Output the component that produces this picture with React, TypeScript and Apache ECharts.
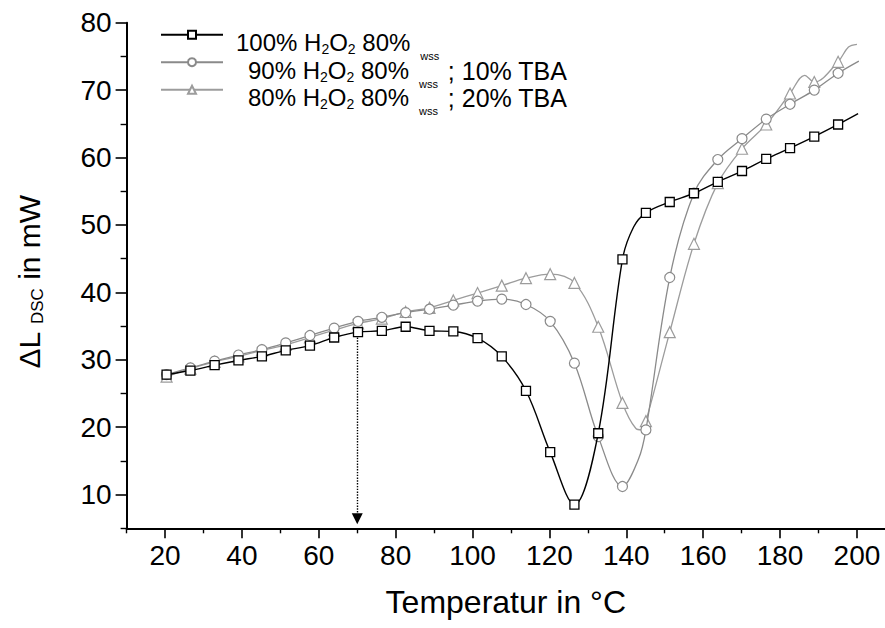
import React, { useEffect, useRef } from "react";
import * as echarts from "echarts";

// Temperatures (°C) of the sampled points (markers)
const temps = [20.4, 26.6, 32.9, 39.1, 45.2, 51.4, 57.7, 64.0, 70.2, 76.4, 82.6, 88.8, 95.0, 101.3, 107.6, 113.9, 120.2, 126.5, 132.7, 139.0, 145.1, 151.3, 157.6, 163.8, 170.1, 176.4, 182.6, 188.9, 195.1];

// ΔL_DSC in mW
const s100 = [27.8, 28.4, 29.2, 29.9, 30.5, 31.4, 32.1, 33.3, 34.1, 34.3, 34.9, 34.3, 34.2, 33.2, 30.5, 25.4, 16.3, 8.5, 19.1, 44.9, 51.8, 53.4, 54.7, 56.4, 58.0, 59.8, 61.4, 63.1, 64.9];
const s90 = [27.8, 28.8, 29.8, 30.7, 31.5, 32.5, 33.6, 34.7, 35.7, 36.3, 37.0, 37.5, 38.1, 38.7, 39.0, 38.2, 35.7, 29.5, 18.6, 11.2, 19.6, 42.2, 54.7, 59.7, 62.8, 65.7, 67.9, 70.0, 72.5];
const s80 = [27.5, 28.7, 29.7, 30.5, 31.4, 32.2, 33.3, 34.4, 35.4, 36.1, 37.1, 37.7, 38.8, 39.9, 41.0, 42.1, 42.7, 41.4, 34.9, 23.6, 20.9, 34.1, 47.2, 56.2, 61.3, 64.9, 69.5, 71.2, 74.2];

// intermediate curve points without markers [T, value]
const s100Extra = [[141.9, 49.7], [200.3, 66.5]];
const s90Extra = [[143.2, 15.3], [200.5, 74.3]];
const s80Extra = [[142.5, 19.8], [144.0, 19.6], [186.4, 72.2], [197.8, 76.4], [200.0, 76.8]];

// arrow at 70 °C
const arrowT = 70;
const arrowFrom = 33.3;
const arrowTo = 6.4;

const xLabels = [20, 40, 60, 80, 100, 120, 140, 160, 180, 200];
const xMinor = [10, 30, 50, 70, 90, 110, 130, 150, 170, 190];
const yLabels = [10, 20, 30, 40, 50, 60, 70, 80];
const yMinor = [5, 15, 25, 35, 45, 55, 65, 75];

const names = ["100% H2O2 80% wss", "90% H2O2 80% wss; 10% TBA", "80% H2O2 80% wss; 20% TBA"];
const legendRich = [
  "{a1|100% H}{s|2}{a|O}{s|2}{a| 80%}{w|wss}",
  "{b1|90% H}{s|2}{a|O}{s|2}{a| 80%}{w|wss}{t| ; 10% TBA}",
  "{b1|80% H}{s|2}{a|O}{s|2}{a| 80%}{w|wss}{t| ; 20% TBA}",
];

const FONT = "'Liberation Sans', Arial, Helvetica, sans-serif";

function build(vals: number[], extras: number[][]) {
  const pts: any[] = temps.map((t, i) => ({ value: [t, vals[i]] }));
  extras.forEach(([x, y]) => pts.push({ value: [x, y], symbol: "none" }));
  pts.sort((p, q) => p.value[0] - q.value[0]);
  return pts;
}

export default function App() {
  const ref = useRef<HTMLDivElement>(null);
  useEffect(() => {
    if (!ref.current) return;
    const chart = echarts.init(ref.current, null, { renderer: "svg" });
    const axisCommon = {
      type: "value",
      splitLine: { show: false },
    };
    const option: any = {
      animation: false,
      backgroundColor: "#fff",
      textStyle: { fontFamily: FONT },
      grid: { left: 126.6, right: 0, top: 22.7, bottom: 99.7, containLabel: false },
      xAxis: [
        {
          ...axisCommon,
          min: 10,
          max: 207.3,
          position: "bottom",
          axisLine: { show: true, lineStyle: { color: "#000", width: 2 } },
          axisTick: { show: true, length: 10, inside: false, customValues: xLabels, lineStyle: { color: "#000", width: 1.6 } },
          axisLabel: { show: true, customValues: xLabels, fontSize: 28, color: "#000", margin: 13, fontFamily: FONT },
          name: "Temperatur in °C",
          nameLocation: "middle",
          nameGap: 58,
          nameTextStyle: { fontSize: 32, color: "#000", fontFamily: FONT },
        },
        {
          ...axisCommon,
          min: 10,
          max: 207.3,
          position: "bottom",
          axisLine: { show: false },
          axisTick: { show: true, length: 5, customValues: xMinor, lineStyle: { color: "#000", width: 1.4 } },
          axisLabel: { show: false },
        },
      ],
      yAxis: [
        {
          ...axisCommon,
          min: 5,
          max: 80,
          position: "left",
          axisLine: { show: true, lineStyle: { color: "#000", width: 2 } },
          axisTick: { show: true, length: 11, customValues: yLabels, lineStyle: { color: "#000", width: 1.6 } },
          axisLabel: { show: true, customValues: yLabels, fontSize: 28, color: "#000", margin: 15, fontFamily: FONT },
        },
        {
          ...axisCommon,
          min: 5,
          max: 80,
          position: "left",
          offset: 0,
          axisLine: { show: false },
          axisTick: { show: true, length: 6, customValues: yMinor, lineStyle: { color: "#000", width: 1.4 } },
          axisLabel: { show: false },
        },
      ],
      legend: {
        orient: "vertical",
        left: 160,
        top: 21.7,
        padding: 0,
        itemWidth: 62,
        itemHeight: 10,
        itemGap: -12.5,
        selectedMode: false,
        data: names,
        formatter: (n: string) => legendRich[names.indexOf(n)],
        textStyle: {
          color: "#000",
          fontFamily: FONT,
          rich: {
            a: { fontSize: 24, lineHeight: 26, verticalAlign: "top", padding: [9, 0, 0, 0], fontFamily: FONT, color: "#000" },
            a1: { fontSize: 24, lineHeight: 26, verticalAlign: "top", padding: [9, 0, 0, 8], fontFamily: FONT, color: "#000" },
            b1: { fontSize: 24, lineHeight: 26, verticalAlign: "top", padding: [9, 0, 0, 20], fontFamily: FONT, color: "#000" },
            t: { fontSize: 25, lineHeight: 26, verticalAlign: "top", padding: [9, 0, 0, 0], fontFamily: FONT, color: "#000" },
            s: { fontSize: 14, lineHeight: 14, verticalAlign: "top", padding: [20.5, 0, 0, 0], fontFamily: FONT, color: "#000" },
            w: { fontSize: 11, lineHeight: 11, verticalAlign: "top", padding: [29, 3, 0, 10], fontFamily: FONT, color: "#000" },
          },
        },
      },
      graphic: [
        {
          type: "text",
          x: 30,
          y: 282,
          rotation: Math.PI / 2,
          style: {
            text: "{a|ΔL }{s|DSC}{a| in mW}",
            align: "center",
            verticalAlign: "middle",
            fill: "#000",
            rich: {
              a: { fontSize: 30, lineHeight: 32, verticalAlign: "top", fontFamily: FONT, color: "#000" },
              s: { fontSize: 17, lineHeight: 17, verticalAlign: "top", padding: [15, 0, 0, 0], fontFamily: FONT, color: "#000" },
            },
          },
        },
      ],
      series: [
        {
          type: "line",
          name: names[0],
          data: build(s100, s100Extra),
          smooth: 0.35,
          symbol: "rect",
          symbolSize: 9,
          showAllSymbol: true,
          lineStyle: { color: "#000", width: 1.4 },
          itemStyle: { color: "#fff", borderColor: "#000", borderWidth: 1.3 },
          emphasis: { disabled: true },
          z: 4,
          markLine: {
            silent: true,
            symbol: ["none", "triangle"],
            symbolSize: 11,
            label: { show: false },
            lineStyle: { type: "dotted", color: "#000", width: 1.4 },
            data: [[{ coord: [arrowT, arrowFrom] }, { coord: [arrowT, arrowTo] }]],
          },
        },
        {
          type: "line",
          name: names[1],
          data: build(s90, s90Extra),
          smooth: 0.35,
          symbol: "circle",
          symbolSize: 10,
          showAllSymbol: true,
          lineStyle: { color: "#8a8a8a", width: 1.3 },
          itemStyle: { color: "#fff", borderColor: "#8a8a8a", borderWidth: 1.2 },
          emphasis: { disabled: true },
          z: 3,
        },
        {
          type: "line",
          name: names[2],
          data: build(s80, s80Extra),
          smooth: 0.35,
          symbol: "triangle",
          symbolSize: 11,
          showAllSymbol: true,
          lineStyle: { color: "#9c9c9c", width: 1.3 },
          itemStyle: { color: "#fff", borderColor: "#9c9c9c", borderWidth: 1.2 },
          emphasis: { disabled: true },
          z: 2,
        },
      ],
    };
    chart.setOption(option);
    return () => chart.dispose();
  }, []);
  return <div ref={ref} style={{ width: 885, height: 628, position: "absolute", left: 0, top: 0 }} />;
}
